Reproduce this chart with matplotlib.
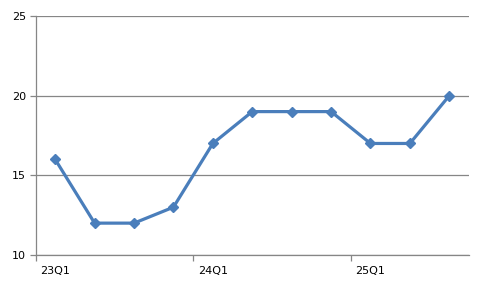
import matplotlib
matplotlib.use("Agg")
import matplotlib.pyplot as plt
from matplotlib.ticker import FixedLocator

categories = ["23Q1", "23Q2", "23Q3", "23Q4", "24Q1", "24Q2", "24Q3", "24Q4", "25Q1", "25Q2", "25Q3"]
values = [16, 12, 12, 13, 17, 19, 19, 19, 17, 17, 20]
yticks = [10, 15, 20, 25]

fig = plt.figure(figsize=(4.84, 2.90), dpi=100)
ax = fig.add_axes([35.5 / 484, 35 / 290, (469 - 35.5) / 484, (255 - 16) / 290])

x = list(range(len(categories)))
ax.plot(x, values, color="#4A7EBB", lw=2.3, marker="D", ms=5, mfc="#4A7EBB", mec="#4A7EBB", zorder=3)

ax.set_xlim(-0.5, len(categories) - 0.5)
ax.set_ylim(10, 25)
ax.set_yticks(yticks)
ax.set_yticklabels([str(v) for v in yticks])
ax.yaxis.grid(True, color="#868686", lw=0.9)
ax.set_axisbelow(True)

lab_pos = [i for i in x if i % 4 == 0]
ax.set_xticks(lab_pos)
ax.set_xticklabels([categories[i] for i in lab_pos])
ax.xaxis.set_minor_locator(FixedLocator([i - 0.5 for i in x if i % 4 == 0]))
ax.tick_params(axis="x", which="major", length=0, pad=8)
ax.tick_params(axis="x", which="minor", length=4, color="#868686", width=0.9)
ax.tick_params(axis="y", length=4, color="#868686", width=0.9, pad=3)

for s in ["top", "right"]:
    ax.spines[s].set_visible(False)
for s in ["left", "bottom"]:
    ax.spines[s].set_color("#868686")
    ax.spines[s].set_linewidth(0.9)

for lbl in ax.get_xticklabels() + ax.get_yticklabels():
    lbl.set_fontsize(8)
    lbl.set_color("black")

fig.savefig("out.png", dpi=100)
